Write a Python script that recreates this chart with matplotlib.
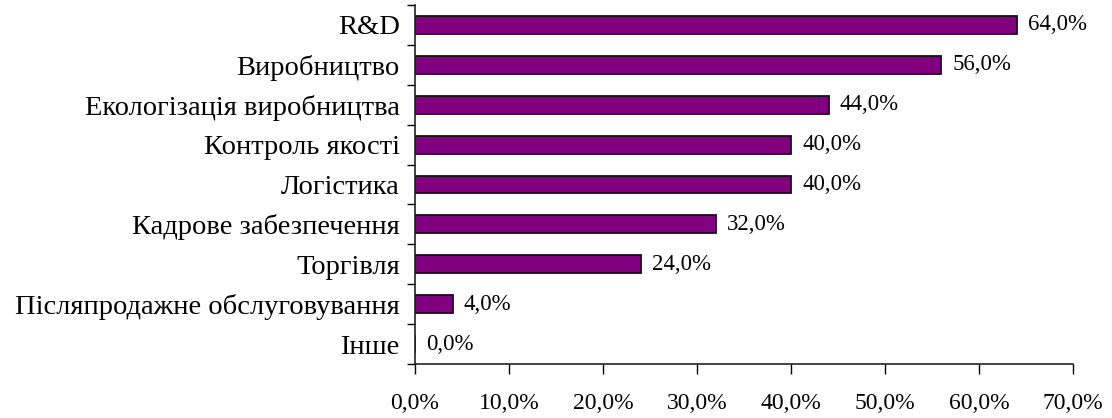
import matplotlib
matplotlib.use("Agg")
import matplotlib.pyplot as plt
import numpy as np

categories = ["R&D", "Виробництво", "Екологізація виробництва", "Контроль якості",
              "Логістика", "Кадрове забезпечення", "Торгівля",
              "Післяпродажне обслуговування", "Інше"]
values = [64.0, 56.0, 44.0, 40.0, 40.0, 32.0, 24.0, 4.0, 0.0]
xticks = [0, 10, 20, 30, 40, 50, 60, 70]
xtick_labels = ["0,0%", "10,0%", "20,0%", "30,0%", "40,0%", "50,0%", "60,0%", "70,0%"]

plt.rcParams['font.family'] = ['Liberation Serif', 'DejaVu Serif']

fig = plt.figure(figsize=(11.12, 4.18), dpi=100)
ax = fig.add_axes([415/1112, 1 - 364/418, (1073-415)/1112, (364-5)/418])

y = np.arange(len(categories))
ax.barh(y, values, height=0.45, color="#800080", edgecolor="#1a0a1a", linewidth=1.3)
ax.set_ylim(len(categories) - 0.5, -0.5)
ax.set_xlim(0, 70)

ax.set_yticks(y)
ax.set_yticklabels(categories, fontsize=20.5)
ax.set_yticks(np.arange(-0.5, len(categories), 1), minor=True)
ax.tick_params(axis='y', which='major', length=0, pad=11)
ax.tick_params(axis='y', which='minor', length=6, direction='out', width=1)

ax.set_xticks(xticks)
ax.set_xticklabels(xtick_labels, fontsize=17)
ax.tick_params(axis='x', length=7, direction='out', width=1, pad=14)

for s in ['top', 'right']:
    ax.spines[s].set_visible(False)
for s in ['left', 'bottom']:
    ax.spines[s].set_color('#222222')
    ax.spines[s].set_linewidth(1.2)

for yi, v in zip(y, values):
    ax.text(v + 1.2, yi, f"{v:.1f}%".replace('.', ','), va='center', ha='left', fontsize=16.5)

fig.savefig("out.png", dpi=100)
